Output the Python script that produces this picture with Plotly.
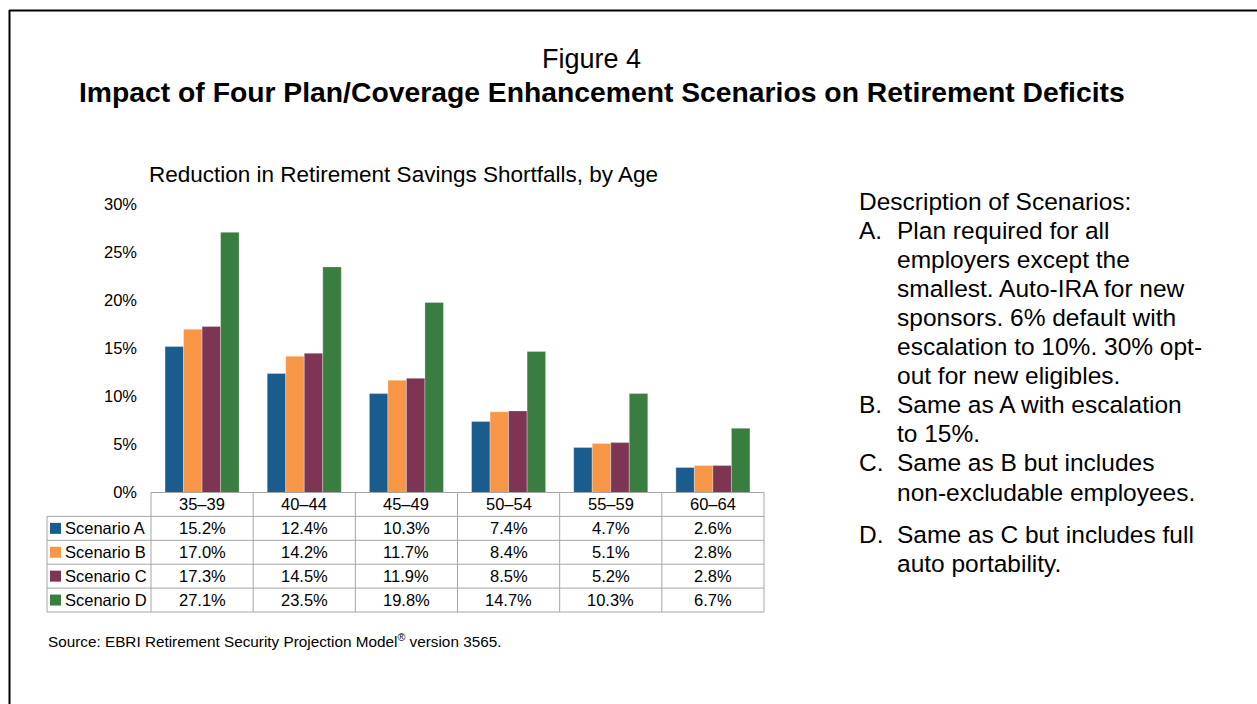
import plotly.graph_objects as go

# ---- data ----
age_groups = ["35–39", "40–44", "45–49", "50–54", "55–59", "60–64"]
scenario_names = ["Scenario A", "Scenario B", "Scenario C", "Scenario D"]
scenario_a = [15.2, 12.4, 10.3, 7.4, 4.7, 2.6]
scenario_b = [17.0, 14.2, 11.7, 8.4, 5.1, 2.8]
scenario_c = [17.3, 14.5, 11.9, 8.5, 5.2, 2.8]
scenario_d = [27.1, 23.5, 19.8, 14.7, 10.3, 6.7]
series = [scenario_a, scenario_b, scenario_c, scenario_d]
colors = ["#1A5C8E", "#F79646", "#7D3553", "#3A7D41"]
y_ticks = [0, 5, 10, 15, 20, 25, 30]

descriptions = [
    ("A.", ["Plan required for all", "employers except the", "smallest. Auto-IRA for new",
            "sponsors. 6% default with", "escalation to 10%. 30% opt-", "out for new eligibles."]),
    ("B.", ["Same as A with escalation", "to 15%."]),
    ("C.", ["Same as B but includes", "non-excludable employees."]),
    ("D.", ["Same as C but includes full", "auto portability."]),
]

# ---- page geometry (pixels) ----
W, H = 1257, 704
FONT = "Arial, Liberation Sans, sans-serif"
plot_left, plot_right = 151, 764
plot_top, plot_bottom = 204.5, 492.5
label_left = 47
row_h = 23.9
grid_color = "#A6A6A6"


def fx(px):
    return px / W


def fy(py):
    return 1 - py / H


fig = go.Figure()
for name, vals, col in zip(scenario_names, series, colors):
    fig.add_trace(go.Bar(
        x=age_groups, y=vals, name=name,
        marker=dict(color=col, line=dict(color="rgba(255,255,255,0.5)", width=0.6)),
        hoverinfo="x+y+name",
    ))

shapes = []
annotations = []

# ---- data table under the bars ----
n_cols = len(age_groups)
col_w = (plot_right - plot_left) / n_cols
col_edges = [plot_left + k * col_w for k in range(n_cols + 1)]
row_edges = [plot_bottom + r * row_h for r in range(len(series) + 2)]
table_bottom = row_edges[-1]

line_style = dict(color=grid_color, width=1)
# top edge (header row)
shapes.append(dict(type="line", xref="paper", yref="paper",
                   x0=fx(plot_left), x1=fx(plot_right), y0=fy(plot_bottom), y1=fy(plot_bottom),
                   line=line_style))
# horizontal rules for the series rows
for yr in row_edges[1:]:
    shapes.append(dict(type="line", xref="paper", yref="paper",
                       x0=fx(label_left), x1=fx(plot_right), y0=fy(yr), y1=fy(yr), line=line_style))
# vertical rules
shapes.append(dict(type="line", xref="paper", yref="paper",
                   x0=fx(label_left), x1=fx(label_left), y0=fy(row_edges[1]), y1=fy(table_bottom),
                   line=line_style))
for xe in col_edges:
    shapes.append(dict(type="line", xref="paper", yref="paper",
                       x0=fx(xe), x1=fx(xe), y0=fy(plot_bottom), y1=fy(table_bottom), line=line_style))

cell_font = dict(family=FONT, size=16.5, color="#000000")
for k, grp in enumerate(age_groups):
    cx = (col_edges[k] + col_edges[k + 1]) / 2
    annotations.append(dict(x=fx(cx), y=fy((row_edges[0] + row_edges[1]) / 2), xref="paper", yref="paper",
                            text=grp, showarrow=False, font=cell_font, xanchor="center", yanchor="middle"))
    for r, vals in enumerate(series):
        cy = (row_edges[r + 1] + row_edges[r + 2]) / 2
        annotations.append(dict(x=fx(cx), y=fy(cy), xref="paper", yref="paper",
                                text=f"{vals[k]:.1f}%", showarrow=False, font=cell_font,
                                xanchor="center", yanchor="middle"))

for r, (name, col) in enumerate(zip(scenario_names, colors)):
    cy = (row_edges[r + 1] + row_edges[r + 2]) / 2
    shapes.append(dict(type="rect", xref="paper", yref="paper",
                       x0=fx(50), x1=fx(61), y0=fy(cy + 5.5), y1=fy(cy - 5.5),
                       fillcolor=col, line=dict(width=0)))
    annotations.append(dict(x=fx(63), y=fy(cy), xref="paper", yref="paper", text=name,
                            showarrow=False, font=cell_font, xanchor="left", yanchor="middle"))

# ---- titles ----
annotations.append(dict(x=fx(591), y=fy(59.5), xref="paper", yref="paper", text="Figure 4",
                        showarrow=False, font=dict(family=FONT, size=27, color="#000"),
                        xanchor="center", yanchor="middle"))
annotations.append(dict(x=fx(601.5), y=fy(92.5), xref="paper", yref="paper",
                        text="<b>Impact of Four Plan/Coverage Enhancement Scenarios on Retirement Deficits</b>",
                        showarrow=False, font=dict(family=FONT, size=28.3, color="#000"),
                        xanchor="center", yanchor="middle"))
annotations.append(dict(x=fx(147), y=fy(174), xref="paper", yref="paper",
                        text="Reduction in Retirement Savings Shortfalls, by Age",
                        showarrow=False, font=dict(family=FONT, size=22.5, color="#000"),
                        xanchor="left", yanchor="middle"))

# ---- scenario descriptions ----
desc_font = dict(family=FONT, size=24.5, color="#000")
annotations.append(dict(x=fx(857), y=fy(201), xref="paper", yref="paper",
                        text="Description of Scenarios:", showarrow=False, font=desc_font,
                        xanchor="left", yanchor="middle"))
line_y = 201
gap = 29.1
for letter, lines in descriptions:
    for j, txt in enumerate(lines):
        line_y += gap
        if letter == "D." and j == 0:
            line_y += 13
        if j == 0:
            annotations.append(dict(x=fx(857), y=fy(line_y), xref="paper", yref="paper", text=letter,
                                    showarrow=False, font=desc_font, xanchor="left", yanchor="middle"))
        annotations.append(dict(x=fx(895), y=fy(line_y), xref="paper", yref="paper", text=txt,
                                showarrow=False, font=desc_font, xanchor="left", yanchor="middle"))

# ---- source note ----
annotations.append(dict(x=fx(46), y=fy(640), xref="paper", yref="paper",
                        text="Source: EBRI Retirement Security Projection Model<sup>®</sup> version 3565.",
                        showarrow=False, font=dict(family=FONT, size=15.3, color="#000"),
                        xanchor="left", yanchor="middle"))

# ---- frame lines (left and top) ----
shapes.append(dict(type="line", xref="paper", yref="paper", x0=fx(9.5), x1=fx(9.5), y0=fy(10), y1=fy(H),
                   line=dict(color="#000", width=2)))
shapes.append(dict(type="line", xref="paper", yref="paper", x0=fx(9), x1=fx(W), y0=fy(10.5), y1=fy(10.5),
                   line=dict(color="#000", width=2)))

fig.update_layout(
    width=W, height=H,
    margin=dict(l=0, r=0, t=0, b=0),
    paper_bgcolor="white", plot_bgcolor="white",
    barmode="group", bargap=0.275, bargroupgap=0,
    showlegend=False,
    xaxis=dict(domain=[fx(plot_left), fx(plot_right)], showticklabels=False, showgrid=False,
               showline=False, zeroline=False, ticks="", fixedrange=True, automargin=False),
    yaxis=dict(domain=[fy(plot_bottom), fy(plot_top)], range=[0, 30], tickvals=y_ticks,
               ticktext=[f"{v}%" for v in y_ticks], showgrid=False, zeroline=False, showline=False,
               ticks="", ticklabelstandoff=13, automargin=False,
               tickfont=dict(family=FONT, size=16.5, color="#000"), fixedrange=True),
    shapes=shapes,
    annotations=annotations,
    font=dict(family=FONT),
)

fig.write_html("out.html")
